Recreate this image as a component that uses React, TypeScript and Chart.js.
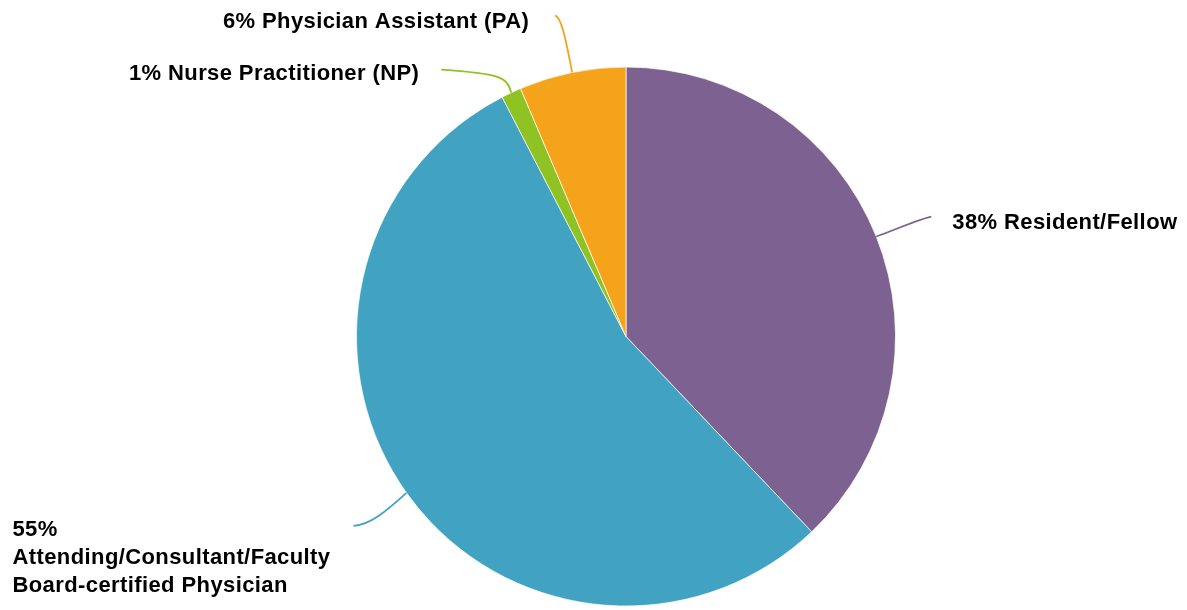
import React, { useEffect, useRef } from "react";
import { Chart, registerables } from "chart.js";

Chart.register(...registerables);

const categories = [
  "Resident/Fellow",
  "Attending/Consultant/Faculty Board-certified Physician",
  "Nurse Practitioner (NP)",
  "Physician Assistant (PA)",
];
const values = [37.9, 54.5, 1.2, 6.4];
const labelLines = [
  ["38% Resident/Fellow"],
  ["55%", "Attending/Consultant/Faculty", "Board-certified Physician"],
  ["1% Nurse Practitioner (NP)"],
  ["6% Physician Assistant (PA)"],
];
const colors = ["#7D6190", "#41A2C2", "#8FC223", "#F4A31B"];

// leader line geometry relative to the slice's mid-point on the rim
const leaders = [
  { cp1: [18, -6], cp2: [38, -16], end: [55, -20], textDx: 21, textDy: 12, align: "left" },
  { cp1: [-20, 18], cp2: [-36, 32], end: [-53, 33], textDx: -341, textDy: 10, align: "left" },
  { cp1: [-4, -16], cp2: [-12, -19], end: [-70, -23], textDx: -22, textDy: 10, align: "right" },
  { cp1: [-6, -30], cp2: [-10, -54], end: [-17, -57], textDx: -26, textDy: 13, align: "right" },
];

const labelPlugin = {
  id: "leaderLabels",
  afterDraw(chart: any) {
    const ctx = chart.ctx;
    const meta = chart.getDatasetMeta(0);
    meta.data.forEach((arc: any, i: number) => {
      const { x, y, outerRadius, startAngle, endAngle } = arc.getProps(
        ["x", "y", "outerRadius", "startAngle", "endAngle"],
        true
      );
      const mid = (startAngle + endAngle) / 2;
      const ax = x + outerRadius * Math.cos(mid);
      const ay = y + outerRadius * Math.sin(mid);
      const L = leaders[i];
      ctx.save();
      ctx.strokeStyle = colors[i];
      ctx.lineWidth = 1.8;
      ctx.beginPath();
      ctx.moveTo(ax, ay);
      ctx.bezierCurveTo(
        ax + L.cp1[0], ay + L.cp1[1],
        ax + L.cp2[0], ay + L.cp2[1],
        ax + L.end[0], ay + L.end[1]
      );
      ctx.stroke();
      ctx.fillStyle = "#000";
      ctx.font = "bold 22px 'Liberation Sans', Arial, sans-serif";
      try {
        (ctx as any).letterSpacing = "0.4px";
      } catch (e) {}
      ctx.textAlign = L.align as CanvasTextAlign;
      ctx.textBaseline = "alphabetic";
      const tx = ax + L.end[0] + L.textDx;
      const ty = ay + L.end[1] + L.textDy;
      labelLines[i].forEach((line, j) => {
        ctx.fillText(line, tx, ty + j * 28);
      });
      ctx.restore();
    });
  },
};

export default function App() {
  const ref = useRef<HTMLCanvasElement | null>(null);
  useEffect(() => {
    if (!ref.current) return;
    const chart = new Chart(ref.current, {
      type: "pie",
      data: {
        labels: categories,
        datasets: [
          {
            data: values,
            backgroundColor: colors,
            borderColor: "rgba(255,255,255,0.7)",
            borderWidth: 1,
          },
        ],
      },
      options: {
        animation: false,
        responsive: true,
        maintainAspectRatio: false,
        layout: { padding: { left: 356, right: 291, top: 66, bottom: 3 } },
        plugins: {
          legend: { display: false },
          tooltip: { enabled: false },
        },
      },
      plugins: [labelPlugin],
    });
    return () => chart.destroy();
  }, []);
  return (
    <div style={{ position: "absolute", left: 0, top: 0, width: 1187, height: 610 }}>
      <canvas ref={ref} />
    </div>
  );
}
